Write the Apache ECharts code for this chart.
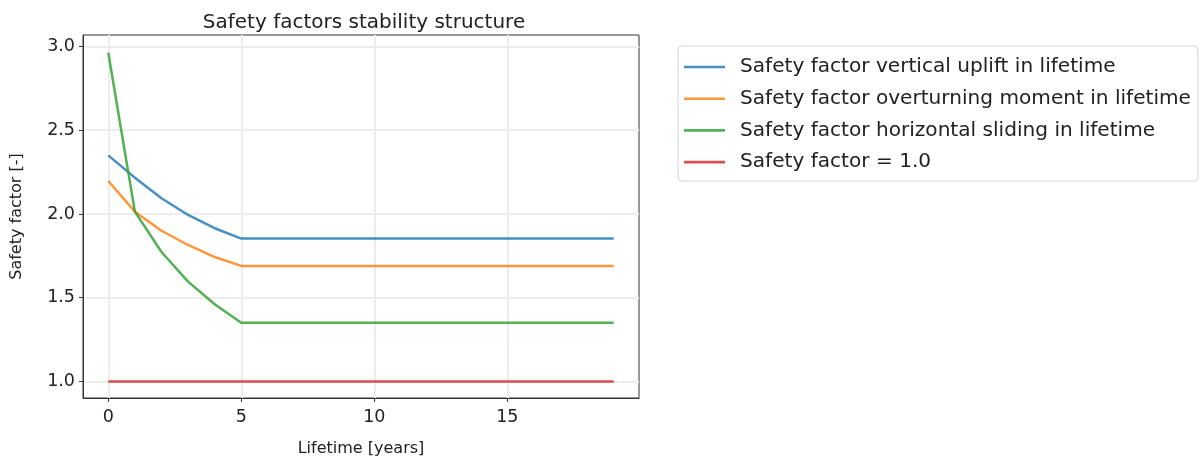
<!DOCTYPE html>
<html>
<head>
<meta charset="utf-8">
<script src="https://cdn.jsdelivr.net/npm/echarts@6/dist/echarts.min.js"></script>
<style>
  html, body { margin: 0; padding: 0; background: #fff; overflow: hidden; }
  #chart { width: 1201px; height: 460px; }
</style>
</head>
<body>
<div id="chart"></div>
<script>
// Lifetime in years
const years = [0, 1, 2, 3, 4, 5, 6, 7, 8, 9, 10, 11, 12, 13, 14, 15, 16, 17, 18, 19];

// Safety factors per year
const verticalUplift = [2.350, 2.217, 2.094, 1.994, 1.915, 1.853, 1.853, 1.853, 1.853, 1.853,
                        1.853, 1.853, 1.853, 1.853, 1.853, 1.853, 1.853, 1.853, 1.853, 1.853];
const overturningMoment = [2.197, 2.014, 1.900, 1.815, 1.743, 1.690, 1.690, 1.690, 1.690, 1.690,
                           1.690, 1.690, 1.690, 1.690, 1.690, 1.690, 1.690, 1.690, 1.690, 1.690];
const horizontalSliding = [2.963, 2.014, 1.773, 1.596, 1.461, 1.351, 1.351, 1.351, 1.351, 1.351,
                           1.351, 1.351, 1.351, 1.351, 1.351, 1.351, 1.351, 1.351, 1.351, 1.351];
const unitFactor = [1.0, 1.0, 1.0, 1.0, 1.0, 1.0, 1.0, 1.0, 1.0, 1.0,
                    1.0, 1.0, 1.0, 1.0, 1.0, 1.0, 1.0, 1.0, 1.0, 1.0];

// Tick positions
const xTicks = [0, 5, 10, 15];
const yTicks = [1.0, 1.5, 2.0, 2.5, 3.0];

const seriesNames = [
  'Safety factor vertical uplift in lifetime',
  'Safety factor overturning moment in lifetime',
  'Safety factor horizontal sliding in lifetime',
  'Safety factor = 1.0'
];
// tab10 colours drawn slightly transparent
const seriesColors = [
  'rgba(31,119,180,0.82)',
  'rgba(255,127,14,0.82)',
  'rgba(44,160,44,0.82)',
  'rgba(214,39,40,0.82)'
];
const seriesValues = [verticalUplift, overturningMoment, horizontalSliding, unitFactor];

const font = 'DejaVu Sans';

function pairs(values) {
  return years.map((y, i) => [y, values[i]]);
}

const chart = echarts.init(document.getElementById('chart'), null, { renderer: 'canvas' });

chart.setOption({
  animation: false,
  backgroundColor: '#ffffff',
  title: {
    text: 'Safety factors stability structure',
    left: 359,
    top: 8,
    textAlign: 'center',
    textStyle: { fontFamily: font, fontSize: 20, fontWeight: 'normal', color: '#222' }
  },
  grid: {
    left: 83,
    top: 35,
    width: 556,
    height: 363,
    containLabel: false,
    outerBoundsMode: 'none',
    show: true,
    borderColor: '#333',
    borderWidth: 1,
    backgroundColor: 'transparent'
  },
  legend: {
    orient: 'vertical',
    left: 678,
    top: 46,
    padding: [11, 7, 9, 6],
    icon: 'rect',
    itemWidth: 41,
    itemHeight: 2.6,
    itemGap: 11.7,
    borderColor: '#d4d4d4',
    borderWidth: 1,
    borderRadius: 4,
    data: seriesNames.map((name, i) => ({ name: name, itemStyle: { color: seriesColors[i] } })),
    textStyle: { fontFamily: font, fontSize: 20.1, lineHeight: 20, color: '#222', padding: [0, 0, 0, 10] }
  },
  xAxis: {
    type: 'value',
    min: -0.95,
    max: 19.95,
    name: 'Lifetime [years]',
    nameLocation: 'middle',
    nameGap: 43,
    nameTextStyle: { fontFamily: font, fontSize: 16, color: '#222' },
    axisLine: { show: true, onZero: false, lineStyle: { color: '#333', width: 1 } },
    axisTick: { show: true, length: 4, customValues: xTicks, lineStyle: { color: '#333' } },
    axisLabel: { customValues: xTicks, margin: 10, fontFamily: font, fontSize: 17.5, color: '#222' },
    splitLine: { show: true, lineStyle: { color: '#ededed', width: 2 } }
  },
  yAxis: {
    type: 'value',
    min: 0.9015,
    max: 3.0685,
    name: 'Safety factor [-]',
    nameLocation: 'middle',
    nameRotate: 90,
    nameGap: 58,
    nameTextStyle: { fontFamily: font, fontSize: 16, color: '#222' },
    axisLine: { show: true, onZero: false, lineStyle: { color: '#333', width: 1 } },
    axisTick: { show: true, length: 4, customValues: yTicks, lineStyle: { color: '#333' } },
    axisLabel: {
      customValues: yTicks, margin: 8, fontFamily: font, fontSize: 17.5, color: '#222',
      formatter: v => v.toFixed(1)
    },
    splitLine: { show: true, lineStyle: { color: '#ededed', width: 2 } }
  },
  series: seriesNames.map((name, i) => ({
    name: name,
    type: 'line',
    data: pairs(seriesValues[i]),
    symbol: 'none',
    showSymbol: false,
    color: seriesColors[i],
    lineStyle: { color: seriesColors[i], width: 2.5 },
    itemStyle: { color: seriesColors[i] }
  }))
});
</script>
</body>
</html>
